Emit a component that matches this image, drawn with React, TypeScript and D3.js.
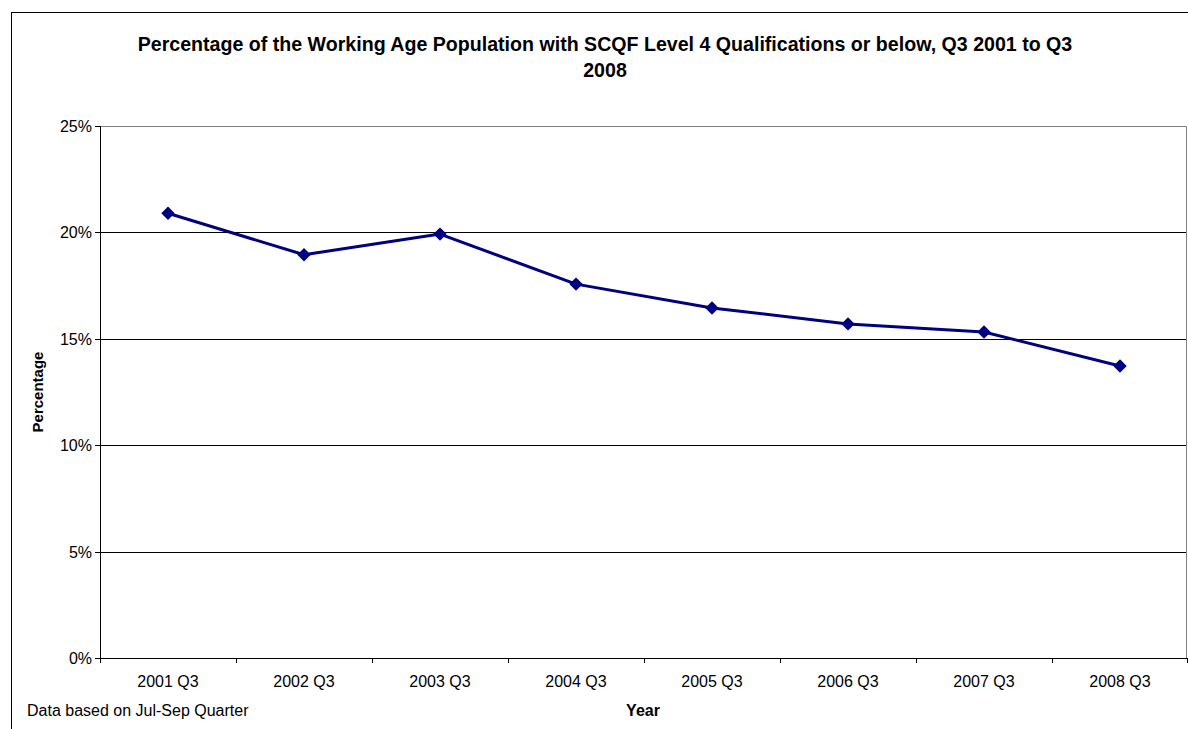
import React, { useRef, useEffect } from 'react';
import * as d3 from 'd3';

const categories = ['2001 Q3', '2002 Q3', '2003 Q3', '2004 Q3', '2005 Q3', '2006 Q3', '2007 Q3', '2008 Q3'];
const values = [20.9, 18.95, 19.92, 17.57, 16.45, 15.7, 15.32, 13.72];
const yTicks = [0, 5, 10, 15, 20, 25];
const titleLines = [
  'Percentage of the Working Age Population with SCQF Level 4 Qualifications or below, Q3 2001 to Q3',
  '2008'
];

export default function App(): JSX.Element {
  const svgRef = useRef<SVGSVGElement>(null);
  useEffect(() => {
    const el = svgRef.current;
    if (el == null) return;
    const svg = d3.select(el);
    svg.selectAll('*').remove();
    const font = 'Arial, "Liberation Sans", sans-serif';

    const left = 100;
    const right = 1188;
    const top = 126;
    const bottom = 658;

    // outer chart border
    svg.append('rect')
      .attr('x', 11.5).attr('y', 12.5)
      .attr('width', 1200).attr('height', 800)
      .attr('fill', 'white').attr('stroke', 'black').attr('stroke-width', 1);

    const x = d3.scaleBand().domain(categories).range([left, right]);
    const y = d3.scaleLinear().domain([0, 25]).range([bottom, top]);

    // gridlines
    svg.append('g').selectAll('line')
      .data(yTicks.filter((t) => t > 0 && t < 25))
      .join('line')
      .attr('x1', left).attr('x2', right - 1)
      .attr('y1', (d) => Math.round(y(d)) + 0.5)
      .attr('y2', (d) => Math.round(y(d)) + 0.5)
      .attr('stroke', 'black').attr('stroke-width', 1);

    // plot area border (top/right)
    svg.append('path')
      .attr('d', `M${left},${top + 0.5}H${right - 1.5}V${bottom}`)
      .attr('fill', 'none').attr('stroke', '#808080').attr('stroke-width', 1);

    // y axis
    const yAxis = svg.append('g');
    yAxis.append('line')
      .attr('x1', left + 0.5).attr('x2', left + 0.5)
      .attr('y1', top).attr('y2', bottom)
      .attr('stroke', 'black');
    yAxis.selectAll('line.tick')
      .data(yTicks)
      .join('line')
      .attr('class', 'tick')
      .attr('x1', left - 5).attr('x2', left)
      .attr('y1', (d) => Math.round(y(d)) + 0.5)
      .attr('y2', (d) => Math.round(y(d)) + 0.5)
      .attr('stroke', 'black');
    yAxis.selectAll('text')
      .data(yTicks)
      .join('text')
      .attr('x', left - 8)
      .attr('y', (d) => y(d) + 6)
      .attr('text-anchor', 'end')
      .attr('font-family', font).attr('font-size', 16)
      .text((d) => `${d}%`);

    // x axis
    const xAxis = svg.append('g');
    xAxis.append('line')
      .attr('x1', left).attr('x2', right)
      .attr('y1', bottom + 0.5).attr('y2', bottom + 0.5)
      .attr('stroke', 'black');
    const tickPos = categories.map((c) => x(c) as number).concat([right - 1]);
    xAxis.selectAll('line.tick')
      .data(tickPos)
      .join('line')
      .attr('class', 'tick')
      .attr('x1', (d) => Math.round(d) + 0.5).attr('x2', (d) => Math.round(d) + 0.5)
      .attr('y1', bottom).attr('y2', bottom + 5)
      .attr('stroke', 'black');
    xAxis.selectAll('text')
      .data(categories)
      .join('text')
      .attr('x', (d) => (x(d) as number) + x.bandwidth() / 2)
      .attr('y', 687)
      .attr('text-anchor', 'middle')
      .attr('font-family', font).attr('font-size', 16)
      .text((d) => d);

    // line
    const cx = (i: number) => (x(categories[i]) as number) + x.bandwidth() / 2;
    const line = d3.line<number>().x((_, i) => cx(i)).y((d) => y(d));
    svg.append('path')
      .datum(values)
      .attr('d', line)
      .attr('fill', 'none')
      .attr('stroke', '#000080')
      .attr('stroke-width', 3)
      .attr('stroke-linejoin', 'round');

    const diamond = d3.symbol().type(d3.symbolDiamond2).size(115);
    svg.append('g').selectAll('path')
      .data(values)
      .join('path')
      .attr('d', diamond)
      .attr('transform', (d, i) => `translate(${cx(i)},${y(d)})`)
      .attr('fill', '#000080');

    // title
    svg.append('g').selectAll('text')
      .data(titleLines)
      .join('text')
      .attr('x', 605)
      .attr('y', (_, i) => 51 + i * 26)
      .attr('text-anchor', 'middle')
      .attr('font-family', font).attr('font-size', 19.6).attr('font-weight', 'bold')
      .text((d) => d);

    // axis titles
    svg.append('text')
      .attr('transform', `translate(43,392) rotate(-90)`)
      .attr('text-anchor', 'middle')
      .attr('font-family', font).attr('font-size', 15).attr('font-weight', 'bold')
      .text('Percentage');
    svg.append('text')
      .attr('x', 643).attr('y', 716)
      .attr('text-anchor', 'middle')
      .attr('font-family', font).attr('font-size', 16).attr('font-weight', 'bold')
      .text('Year');
    svg.append('text')
      .attr('x', 27).attr('y', 716)
      .attr('font-family', font).attr('font-size', 16)
      .text('Data based on Jul-Sep Quarter');
  }, []);
  return (
    <svg
      ref={svgRef}
      width={1188}
      height={729}
      style={{ position: 'absolute', left: 0, top: 0, display: 'block' }}
    />
  );
}
